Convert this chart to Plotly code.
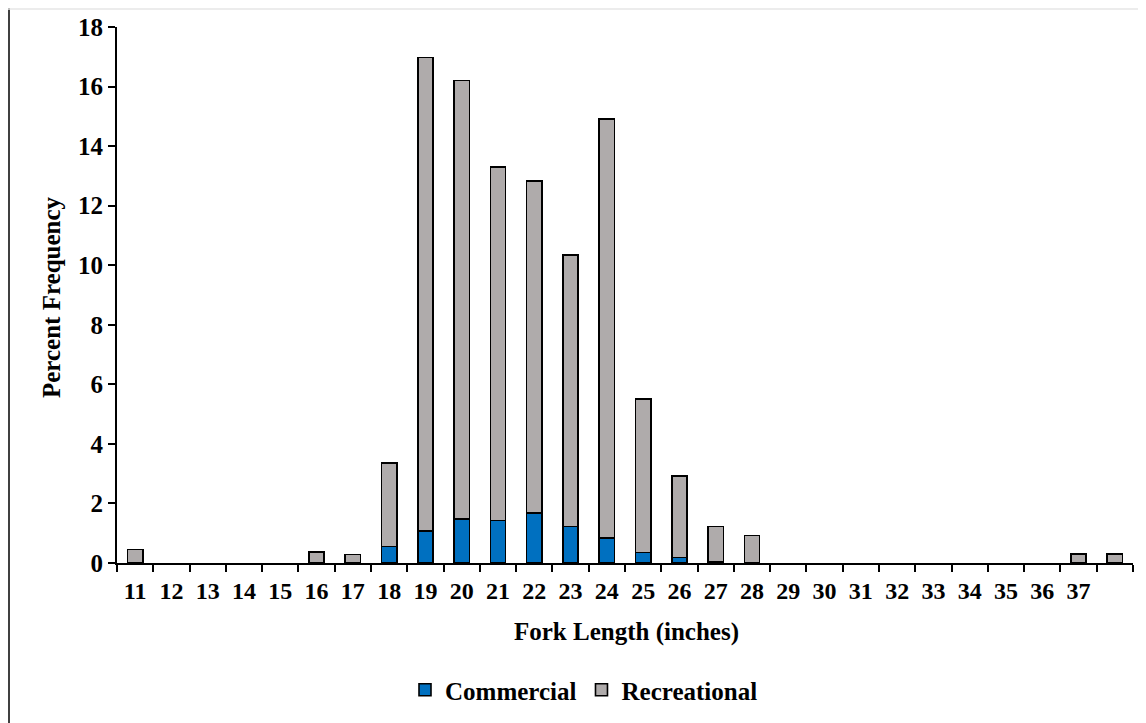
import plotly.graph_objects as go

lengths = list(range(11, 39))
commercial = [None, None, None, None, None, None, None, 0.55, 1.07, 1.47, 1.43, 1.67, 1.22, 0.83,
              0.35, 0.19, 0.03, None, None, None, None, None, None, None, None, None, None, None]
recreational = [0.45, None, None, None, None, 0.37, 0.28, 2.80, 15.90, 14.73, 11.86, 11.16, 9.12,
                14.08, 5.15, 2.73, 1.19, 0.92, None, None, None, None, None, None, None, None,
                0.31, 0.31]
tick_vals = list(range(11, 38))
tick_labels = [str(v) for v in tick_vals]
y_ticks = list(range(0, 19, 2))

FONT = "Liberation Serif"
OFF = 8  # default page body margin
W, H = 1146 - OFF, 723 - OFF
L, R, T, B = 117 - OFF, 1133 - OFF, 27 - OFF, 563 - OFF
PW, PH = R - L, B - T


def px(x):
    return (x - OFF - L) / PW


def py(y):
    return (B - (y - OFF)) / PH


fig = go.Figure()
fig.add_trace(go.Bar(x=lengths, y=commercial, name="Commercial",
                     marker=dict(color="#0070C0", line=dict(color="black", width=1.6)),
                     width=0.42))
fig.add_trace(go.Bar(x=lengths, y=recreational, name="Recreational",
                     marker=dict(color="#AFABAB", line=dict(color="black", width=1.6)),
                     width=0.42))

fig.update_layout(
    barmode="stack",
    width=W, height=H,
    margin=dict(l=L, r=W - R, t=T, b=H - B, autoexpand=False),
    paper_bgcolor="white", plot_bgcolor="white",
    font=dict(family=FONT, color="black", size=24),
    showlegend=True,
    legend=dict(orientation="h", x=px(584), xanchor="center",
                y=py(690), yanchor="middle",
                font=dict(family=FONT, size=25, color="black", weight="bold"),
                itemwidth=30, traceorder="normal"),
    xaxis=dict(range=[10.5, 38.5], tickvals=tick_vals, ticktext=tick_labels,
               ticks="", showgrid=False, zeroline=False, automargin=False,
               ticklabelstandoff=5,
               showline=True, linecolor="black", linewidth=2,
               tickfont=dict(family=FONT, size=24, color="black", weight="bold"),
               minor=dict(tick0=10.5, dtick=1, ticks="outside", ticklen=7,
                          tickwidth=2, tickcolor="black", showgrid=False)),
    yaxis=dict(range=[0, 18], tickvals=y_ticks, ticks="outside", ticklen=7, tickwidth=2,
               tickcolor="black", showgrid=False, zeroline=False, automargin=False,
               showline=True, linecolor="black", linewidth=2,
               tickfont=dict(family=FONT, size=25, color="black", weight="bold")),
    annotations=[
        dict(text="<b>Fork Length (inches)</b>", xref="paper", yref="paper",
             x=px(626), y=py(632), showarrow=False,
             xanchor="center", yanchor="middle", font=dict(family=FONT, size=25, color="black")),
        dict(text="<b>Percent Frequency</b>", xref="paper", yref="paper", textangle=-90,
             x=px(51), y=py(297), showarrow=False,
             xanchor="center", yanchor="middle", font=dict(family=FONT, size=25, color="black")),
    ],
    shapes=[
        dict(type="line", xref="paper", yref="paper",
             x0=px(OFF + 1), x1=px(OFF + 1), y0=py(723), y1=py(OFF),
             line=dict(color="black", width=1.5)),
        dict(type="line", xref="paper", yref="paper",
             x0=px(OFF), x1=px(1146), y0=py(OFF + 1), y1=py(OFF + 1),
             line=dict(color="#e6e6e6", width=1.5)),
    ],
)

fig.write_html("out.html")
